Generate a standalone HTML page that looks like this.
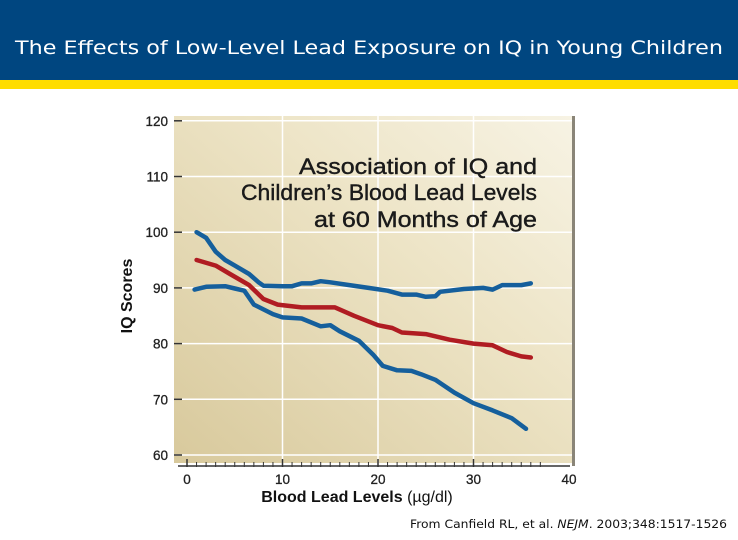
<!DOCTYPE html>
<html><head><meta charset="utf-8"><style>
html,body{margin:0;padding:0;background:#fff;}
svg{display:block;}
</style></head><body>
<svg id="s" width="738" height="540" xmlns="http://www.w3.org/2000/svg">
<defs>
<linearGradient id="bg" x1="0" y1="1" x2="1" y2="0">
<stop offset="0" stop-color="#d8c99c"/><stop offset="0.6" stop-color="#ede4c6"/><stop offset="1" stop-color="#f7f3e4"/>
</linearGradient>
</defs>
<rect x="0" y="0" width="738" height="80" fill="#004680"/>
<rect x="0" y="80" width="738" height="9" fill="#ffdd00"/>
<text x="369" y="54" text-anchor="middle" fill="#fff" font-family="DejaVu Sans, sans-serif" font-size="19" textLength="708" lengthAdjust="spacingAndGlyphs">The Effects of Low-Level Lead Exposure on IQ in Young Children</text>
<rect x="174" y="116" width="398" height="347" fill="url(#bg)"/>
<rect x="572" y="116" width="3" height="350" fill="#8a8578"/>
<g id="grid"></g>
<g id="axes"></g>
<g id="series"></g>
<g font-family="Liberation Sans, sans-serif" font-size="22" fill="#1a1a1a" text-anchor="end" stroke="#1a1a1a" stroke-width="0.4">
<text x="537" y="174" textLength="238" lengthAdjust="spacingAndGlyphs">Association of IQ and</text>
<text x="537" y="200" textLength="296" lengthAdjust="spacingAndGlyphs">Children’s Blood Lead Levels</text>
<text x="537" y="227" textLength="223" lengthAdjust="spacingAndGlyphs">at 60 Months of Age</text>
</g>
<text transform="translate(132,296) rotate(-90)" text-anchor="middle" font-family="Liberation Sans, sans-serif" font-weight="bold" font-size="16" fill="#111">IQ Scores</text>
<text x="357" y="502" text-anchor="middle" font-family="Liberation Sans, sans-serif" font-size="16" fill="#111"><tspan font-weight="bold">Blood Lead Levels</tspan> (µg/dl)</text>
<text x="410" y="528" font-family="DejaVu Sans, sans-serif" font-size="11.5" fill="#111" textLength="317" lengthAdjust="spacingAndGlyphs">From Canfield RL, et al. <tspan font-style="italic">NEJM</tspan>. 2003;348:1517-1526</text>
</svg>
<script>
const xTicks=[0,10,20,30,40];
const yTicks=[60,70,80,90,100,110,120];
const upperX=[1,2,3,4,5,6.5,7.5,8,10,11,12,13,14,15,17,19,21,22.5,24,25,26,26.5,29,31,32,33,35,36];
const upperY=[100,99,96.5,95,94,92.5,91,90.4,90.3,90.3,90.8,90.8,91.2,91,90.5,90,89.5,88.8,88.8,88.4,88.5,89.3,89.8,90,89.7,90.5,90.5,90.8];
const meanX=[1,3,4.5,6.5,8,9.5,12,15.5,17.5,20,21.5,22.5,25,27.5,30,32,33.5,35,36];
const meanY=[95,94,92.5,90.5,88,87,86.5,86.5,85,83.3,82.8,82,81.7,80.7,80,79.7,78.5,77.7,77.5];
const lowerX=[0.8,2,4,5,6,7,9,10,12,14,15,16,18,19.5,20.5,22,23.5,24.5,26,28,30,32,34,35.5];
const lowerY=[89.7,90.2,90.3,89.9,89.5,87,85.3,84.7,84.5,83.1,83.3,82.2,80.5,78,76,75.2,75.1,74.5,73.5,71.2,69.3,68,66.6,64.7];
const X=v=>187+v*9.55;
const Y=v=>455-(v-60)*5.57;
const NS="http://www.w3.org/2000/svg";
function mk(t,a,p){const e=document.createElementNS(NS,t);for(const k in a)e.setAttribute(k,a[k]);p.appendChild(e);return e;}
const grid=document.getElementById('grid'),axes=document.getElementById('axes'),ser=document.getElementById('series');
yTicks.forEach(v=>{
 const l=mk('line',{x1:174,x2:572,y1:Y(v),y2:Y(v),stroke:'#fff','stroke-width':1.5},grid);
 
 
 const tk=mk('line',{x1:174,x2:182,y1:Y(v),y2:Y(v),stroke:'#333','stroke-width':1.5},axes);
 
 
 const t=mk('text',{x:168,y:Y(v)+5,'text-anchor':'end','font-family':'Liberation Sans, sans-serif','font-size':13.5,fill:'#222',stroke:'#222','stroke-width':0.3},axes);
 t.textContent=v;
 
 
});
xTicks.forEach(v=>{
 if(v>0&&v<40){const l=mk('line',{x1:X(v),x2:X(v),y1:116,y2:463,stroke:'#fff','stroke-width':1.5},grid);
 
 }
 const t=mk('text',{x:X(v),y:484,'text-anchor':'middle','font-family':'Liberation Sans, sans-serif','font-size':13.5,fill:'#222',stroke:'#222','stroke-width':0.3},axes);
 t.textContent=v;
 
 
});
for(let i=0;i<=37;i++){
 const big=i%10==0;
 const m=mk('line',{x1:X(i),x2:X(i),y1:big?459:462,y2:467,stroke:'#333','stroke-width':big?1.5:1},axes);
 
 
}
const ax=mk('line',{x1:178,x2:570,y1:466,y2:466,stroke:'#333','stroke-width':1.5},axes);


function path(xs,ys,c,name){
 const d=xs.map((x,i)=>(i?'L':'M')+X(x).toFixed(1)+','+Y(ys[i]).toFixed(1)).join(' ');
 const p=mk('path',{d:d,fill:'none',stroke:c,'stroke-width':4.5,'stroke-linejoin':'round','stroke-linecap':'round'},ser);
 
 
}
path(upperX,upperY,'#155f9c','upper-ci-line');
path(lowerX,lowerY,'#155f9c','lower-ci-line');
path(meanX,meanY,'#b01c22','mean-iq-line');
</script>
</body></html>
